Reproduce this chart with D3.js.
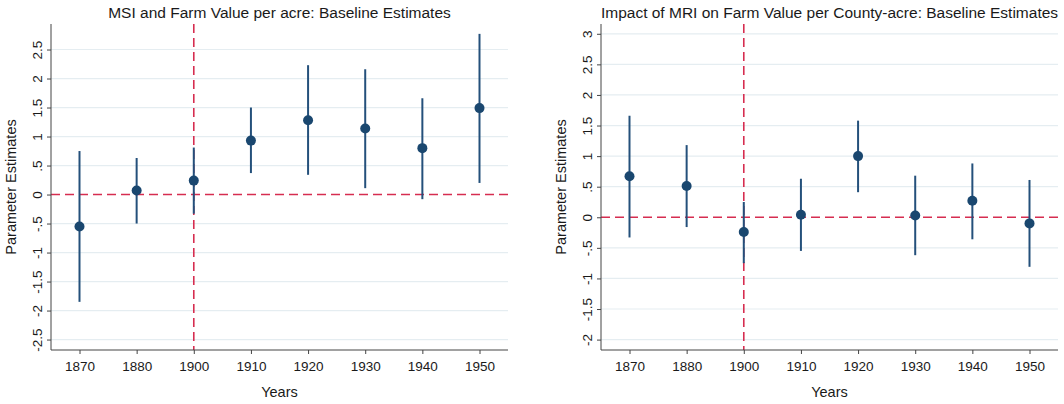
<!DOCTYPE html>
<html>
<head>
<meta charset="utf-8"/>
<style>
    body { margin: 0; background: #fff; }
    svg { display: block; font-family: "Liberation Sans", Arial, sans-serif; }
    .axis path, .axis line { stroke: #444; }
    .axis text { fill: #1a1a1a; font-size: 13.5px; }
    .grid line { stroke: #e5edf1; stroke-width: 1.2; }
    .ref { stroke: #d62d50; stroke-width: 1.6; stroke-dasharray: 9 5; fill: none; }
    .ci { stroke: #24507b; stroke-width: 2; }
    .pt { fill: #1a476f; }
    .title { font-size: 15.5px; fill: #1a1a1a; }
    .lab { font-size: 14.5px; fill: #1a1a1a; }
</style>
</head>
<body>
<svg id="chart"></svg>
<script src="https://d3js.org/d3.v7.min.js"></script>
<script>
    // years shown on both panels (1890 is missing)
    const years = ['1870', '1880', '1900', '1910', '1920', '1930', '1940', '1950'];
    const treatYear = '1900';

    // left panel: MSI
    const msiEst = [-0.55, 0.07, 0.24, 0.93, 1.28, 1.14, 0.80, 1.49];
    const msiLow = [-1.85, -0.50, -0.33, 0.37, 0.34, 0.11, -0.08, 0.20];
    const msiHigh = [0.75, 0.63, 0.81, 1.50, 2.23, 2.16, 1.66, 2.77];
    const msiTicks = [-2.5, -2, -1.5, -1, -0.5, 0, 0.5, 1, 1.5, 2, 2.5];

    // right panel: MRI
    const mriEst = [0.67, 0.51, -0.24, 0.04, 1.00, 0.03, 0.27, -0.10];
    const mriLow = [-0.33, -0.16, -0.75, -0.55, 0.41, -0.62, -0.36, -0.81];
    const mriHigh = [1.66, 1.18, 0.25, 0.63, 1.58, 0.68, 0.88, 0.61];
    const mriTicks = [-2, -1.5, -1, -0.5, 0, 0.5, 1, 1.5, 2, 2.5, 3];

    const W = 1064, H = 404;
    const svg = d3.select('#chart').attr('width', W).attr('height', H);

    // stata style labels: .5 instead of 0.5
    function fmt(v) {
        return String(v).replace(/^(-?)0\./, '$1.');
    }

    function panel(opt) {
        const g = svg.append('g');
        const x = d3.scalePoint().domain(years).range([opt.x0 + 28.5, opt.x1 - 28.5]);
        const y = d3.scaleLinear().domain(opt.yDomain).range([opt.yBottom, opt.yTop]);

        // gridlines
        g.append('g').attr('class', 'grid')
            .selectAll('line')
            .data(opt.ticks.filter(function(t){ return t !== 0; }))
            .enter().append('line')
            .attr('x1', opt.x0).attr('x2', opt.x1)
            .attr('y1', function(d){ return y(d); })
            .attr('y2', function(d){ return y(d); });

        // reference lines
        g.append('line').attr('class', 'ref')
            .attr('x1', opt.x0).attr('x2', opt.x1)
            .attr('y1', y(0)).attr('y2', y(0));
        g.append('line').attr('class', 'ref')
            .attr('x1', x(treatYear)).attr('x2', x(treatYear))
            .attr('y1', opt.yTop).attr('y2', opt.yBottom);

        // confidence intervals
        g.selectAll('.ci')
            .data(years)
            .enter().append('line')
            .attr('class', 'ci')
            .attr('x1', function(d){ return x(d); })
            .attr('x2', function(d){ return x(d); })
            .attr('y1', function(d, i){ return y(opt.low[i]); })
            .attr('y2', function(d, i){ return y(opt.high[i]); });

        g.selectAll('.pt')
            .data(years)
            .enter().append('circle')
            .attr('class', 'pt')
            .attr('cx', function(d){ return x(d); })
            .attr('cy', function(d, i){ return y(opt.est[i]); })
            .attr('r', 5);

        // axes
        const yAxis = g.append('g').attr('class', 'axis')
            .attr('transform', 'translate(' + opt.x0 + ',0)')
            .call(d3.axisLeft(y).tickValues(opt.ticks).tickFormat(fmt).tickSize(4).tickSizeOuter(0));
        yAxis.select('.domain').attr('d', 'M0,' + opt.yTop + 'V' + opt.yBottom);
        // rotate labels around the tick itself
        yAxis.selectAll('.tick text')
            .attr('transform', 'rotate(-90)')
            .attr('x', 0).attr('y', -9)
            .attr('dy', 0)
            .style('text-anchor', 'middle');

        const xAxis = g.append('g').attr('class', 'axis')
            .attr('transform', 'translate(0,' + opt.yBottom + ')')
            .call(d3.axisBottom(x).tickSize(4).tickSizeOuter(0));
        xAxis.select('.domain').attr('d', 'M' + opt.x0 + ',0H' + opt.x1);
        xAxis.selectAll('text').attr('y', 11).attr('dy', '0.71em');

        // titles
        const cx = (opt.x0 + opt.x1) / 2;
        g.append('text').attr('class', 'title')
            .attr('x', cx).attr('y', 18)
            .attr('text-anchor', 'middle')
            .text(opt.title);
        g.append('text').attr('class', 'lab')
            .attr('x', cx).attr('y', 397)
            .attr('text-anchor', 'middle')
            .text('Years');
        g.append('text').attr('class', 'lab')
            .attr('transform', 'translate(' + (opt.x0 - 35) + ',' + ((opt.yTop + opt.yBottom) / 2) + ') rotate(-90)')
            .attr('text-anchor', 'middle')
            .text('Parameter Estimates');
    }

    panel({
        title: 'MSI and Farm Value per acre: Baseline Estimates',
        x0: 51, x1: 508, yTop: 24, yBottom: 350,
        yDomain: [-2.68, 2.94],
        ticks: msiTicks, est: msiEst, low: msiLow, high: msiHigh
    });
    panel({
        title: 'Impact of MRI on Farm Value per County-acre: Baseline Estimates',
        x0: 601, x1: 1058, yTop: 24, yBottom: 350,
        yDomain: [-2.17, 3.16],
        ticks: mriTicks, est: mriEst, low: mriLow, high: mriHigh
    });
</script>
</body>
</html>
